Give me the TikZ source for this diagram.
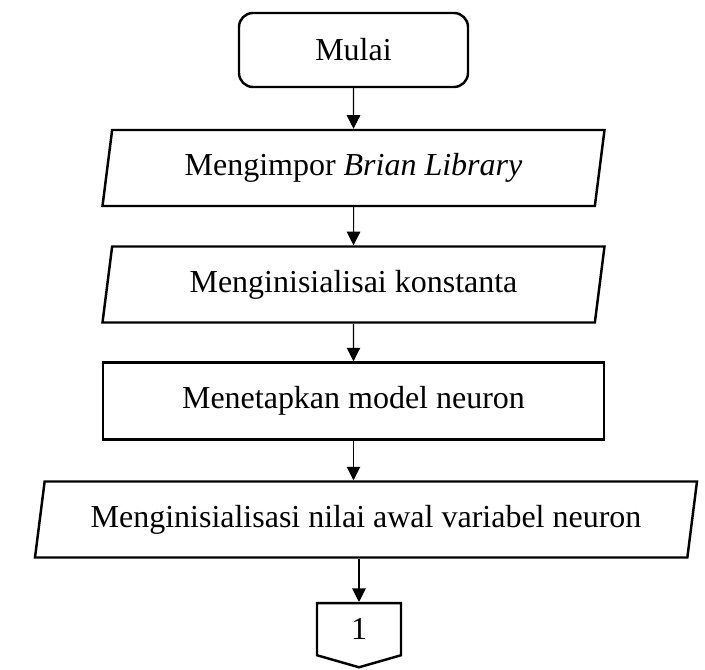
\documentclass[tikz,border=0pt]{standalone}
\usepackage{fontspec}
\setmainfont{Liberation Serif}
\usetikzlibrary{shapes.geometric,shapes.symbols,arrows.meta}

\begin{document}
\begin{tikzpicture}[
			every node/.style={font=\fontsize{18.2}{22}\selectfont},
			terminal/.style={draw, line width=1.4pt, rounded corners=0.28cm, minimum width=4.58cm, minimum height=1.48cm},
			io/.style={draw, line width=1.4pt, trapezium, trapezium left angle=76.7, trapezium right angle=103.3, trapezium stretches body, minimum height=1.52cm},
			proses/.style={draw, line width=1.4pt, minimum width=10.02cm, minimum height=1.54cm},
			konektor/.style={draw, line width=1.4pt, signal, signal to=south, signal pointer angle=148, minimum width=1.68cm, minimum height=1.12cm},
			panah/.style={-{Triangle[length=0.27cm,width=0.27cm]}, line width=0.6pt}
		]
			\useasboundingbox (0, 0) rectangle (14.1, 13.4);
			
			\node[terminal] (mulai) at (7.07, 12.4) {Mulai};
			\node[io, minimum width=10.04cm] (impor) at (7.07, 10.04) {Mengimpor \textit{Brian Library}};
			\node[io, minimum width=10.04cm] (konstanta) at (7.07, 7.71) {Menginisialisai konstanta};
			\node[proses] (model) at (7.07, 5.38) {Menetapkan model neuron};
			\node[io, minimum width=13.24cm] (nilaiawal) at (7.32, 3.01) {Menginisialisasi nilai awal variabel neuron};
			\node[konektor, anchor=north] (satu) at (7.18, 1.36) {1};
			
			\draw[panah] (mulai) -- (impor);
			\draw[panah] (impor) -- (konstanta);
			\draw[panah] (konstanta) -- (model);
			\draw[panah] (model.south) -- (model.south |- nilaiawal.north);
			\draw[panah] (satu.north |- nilaiawal.south) -- (satu.north);
		\end{tikzpicture}
\end{document}
